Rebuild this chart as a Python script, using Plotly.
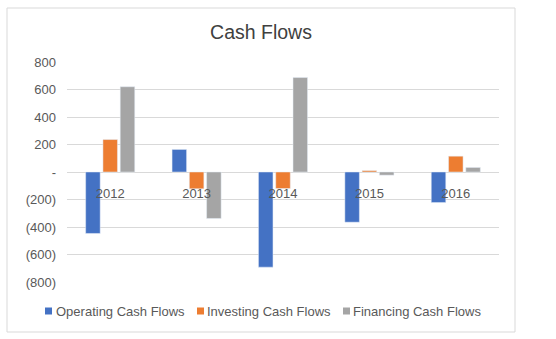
import plotly.graph_objects as go

years = ["2012", "2013", "2014", "2015", "2016"]
operating = [-447, 164, -692, -365, -222]
investing = [236, -122, -120, 10, 115]
financing = [620, -338, 687, -23, 33]
series_names = ["Operating Cash Flows", "Investing Cash Flows", "Financing Cash Flows"]
series_colors = ["#4472C4", "#ED7D31", "#A5A5A5"]

ytick_vals = [800, 600, 400, 200, 0, -200, -400, -600, -800]
ytick_text = ["800", "600", "400", "200", "-", "(200)", "(400)", "(600)", "(800)"]

W, H = 556, 339
ml, mr, mt, mb = 67, 57, 62, 57
pw, ph = W - ml - mr, H - mt - mb

def px_x(x):
    return (x - ml) / pw

def px_y(y):
    return (H - mb - y) / ph

fig = go.Figure()
for name, vals, col in zip(series_names, [operating, investing, financing], series_colors):
    fig.add_bar(x=years, y=vals, name=name, marker_color=col, showlegend=False)

font = dict(family="Liberation Sans, Arial, sans-serif", size=13, color="#595959")

shapes = [dict(type="rect", xref="paper", yref="paper",
               x0=px_x(7), x1=px_x(515), y0=px_y(332), y1=px_y(8),
               line=dict(color="#D9D9D9", width=1), fillcolor="rgba(0,0,0,0)", layer="below")]
annotations = []
leg_sq_x = [45, 197, 343]
leg_txt_x = [54, 205, 351]
for name, col, sx, tx in zip(series_names, series_colors, leg_sq_x, leg_txt_x):
    shapes.append(dict(type="rect", xref="paper", yref="paper",
                       x0=px_x(sx), x1=px_x(sx + 7), y0=px_y(314.5), y1=px_y(307.5),
                       line=dict(width=0), fillcolor=col))
    annotations.append(dict(text=name, xref="paper", yref="paper", x=px_x(tx), y=px_y(311),
                            xanchor="left", yanchor="middle", showarrow=False,
                            font=dict(size=13, color="#595959")))

fig.update_layout(
    width=W, height=H,
    margin=dict(l=ml, r=mr, t=mt, b=mb, autoexpand=False),
    paper_bgcolor="white", plot_bgcolor="white",
    font=font,
    barmode="group", bargap=0.4, bargroupgap=0.16,
    title=dict(text="Cash Flows", xref="container", x=261 / W, xanchor="center",
               yref="container", y=1 - 32 / H, yanchor="middle",
               font=dict(family="Liberation Sans, Arial, sans-serif", size=19.5, color="#404040")),
    xaxis=dict(anchor="free", position=0.5, showgrid=False, showline=False, zeroline=False,
               ticks="outside", ticklen=9, tickcolor="rgba(0,0,0,0)",
               tickfont=dict(size=13, color="#595959")),
    yaxis=dict(range=[-800, 800], tickvals=ytick_vals, ticktext=ytick_text,
               showgrid=True, gridcolor="#D9D9D9", gridwidth=1,
               zeroline=True, zerolinecolor="#D9D9D9", zerolinewidth=1,
               showline=False, ticks="", ticklabelstandoff=10,
               tickfont=dict(size=13, color="#595959")),
    showlegend=False,
    shapes=shapes,
    annotations=annotations,
)

fig.write_html("out.html")
